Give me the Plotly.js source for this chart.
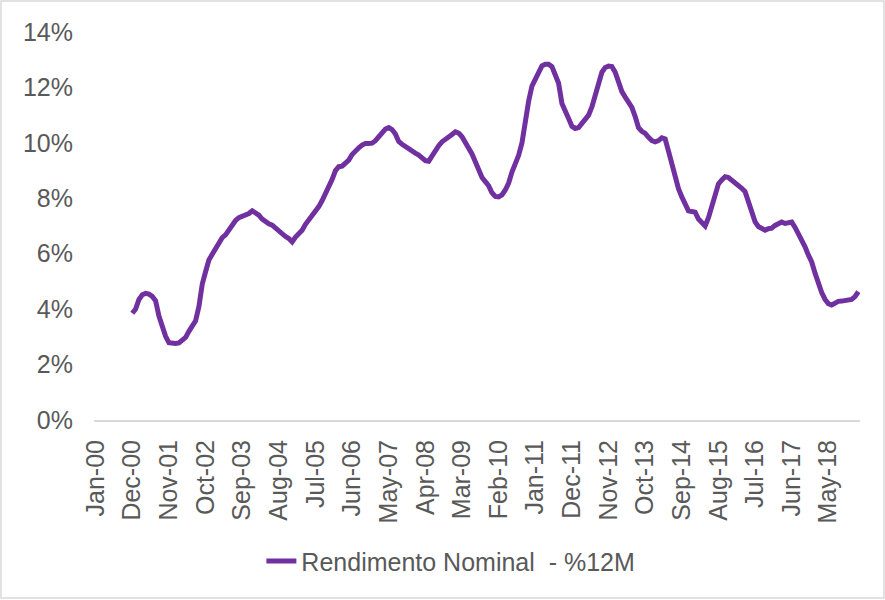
<!DOCTYPE html>
<html>
<head>
<meta charset="utf-8">
<script src="https://cdn.plot.ly/plotly-3.0.1.min.js"></script>
<style>
html,body{margin:0;padding:0;background:#fff;}
#chart{width:885px;height:600px;}
</style>
</head>
<body>
<div id="chart"></div>
<script>
// Monthly categories Jan-00 .. Feb-19
var monthNames = ['Jan','Feb','Mar','Apr','May','Jun','Jul','Aug','Sep','Oct','Nov','Dec'];
var months = [];
for (var yr = 0; yr <= 19; yr++) {
  for (var m = 0; m < 12; m++) {
    if (yr === 19 && m > 1) break;
    months.push(monthNames[m] + '-' + (yr < 10 ? '0' + yr : '' + yr));
  }
}

// Tick labels shown on the axis (every 11 months)
var tickLabels = ['Jan-00','Dec-00','Nov-01','Oct-02','Sep-03','Aug-04','Jul-05','Jun-06','May-07','Apr-08',
  'Mar-09','Feb-10','Jan-11','Dec-11','Nov-12','Oct-13','Sep-14','Aug-15','Jul-16','Jun-17','May-18'];

// Series starts Dec-00
var seriesStart = 'Dec-00';
var seriesName = 'Rendimento Nominal  - %12M';
var rendimento = [
  3.85, 4.00, 4.35, 4.52, 4.57, 4.54, 4.46, 4.30, 3.75, 3.35, 3.02, 2.79, 2.76, 2.76, 2.78, 2.88, 2.98, 3.20, 3.38, 3.58,
  4.09, 4.90, 5.35, 5.77, 5.98, 6.20, 6.45, 6.58, 6.68, 6.88, 7.02, 7.20, 7.30, 7.35, 7.36, 7.45, 7.55, 7.48, 7.39, 7.25,
  7.15, 7.08, 7.03, 6.92, 6.82, 6.72, 6.62, 6.55, 6.43, 6.60, 6.73, 6.85, 7.06, 7.22, 7.31, 7.50, 7.70, 7.92, 8.15, 8.39,
  8.68, 9.00, 9.14, 9.16, 9.28, 9.38, 9.58, 9.72, 9.82, 9.92, 9.98, 9.98, 9.99, 10.08, 10.20, 10.35, 10.50, 10.55, 10.48, 10.32,
  10.05, 9.95, 9.86, 9.78, 9.70, 9.63, 9.56, 9.48, 9.36, 9.34, 9.55, 9.75, 9.90, 10.04, 10.12, 10.18, 10.30, 10.40, 10.35, 10.22,
  10.02, 9.88, 9.60, 9.32, 9.05, 8.75, 8.60, 8.45, 8.20, 8.07, 8.05, 8.12, 8.30, 8.55, 8.95, 9.25, 9.55, 10.00, 10.90, 11.50,
  12.05, 12.30, 12.56, 12.78, 12.84, 12.84, 12.75, 12.50, 12.15, 11.42, 11.10, 10.88, 10.60, 10.52, 10.55, 10.70, 10.82, 11.00, 11.30, 11.75,
  12.20, 12.55, 12.72, 12.77, 12.75, 12.55, 12.20, 11.85, 11.65, 11.45, 11.28, 10.95, 10.55, 10.42, 10.34, 10.20, 10.08, 10.04, 10.08, 10.18,
  10.14, 9.70, 9.20, 8.70, 8.35, 8.05, 7.80, 7.55, 7.52, 7.50, 7.25, 7.10, 7.00, 7.30, 7.69, 8.10, 8.52, 8.66, 8.78, 8.75,
  8.66, 8.57, 8.47, 8.36, 8.24, 7.90, 7.45, 7.15, 6.98, 6.90, 6.85, 6.90, 6.92, 7.02, 7.08, 7.14, 7.09, 7.13, 7.14, 6.95,
  6.72, 6.55, 6.25, 5.95, 5.70, 5.30, 4.92, 4.60, 4.35, 4.20, 4.15, 4.24, 4.28, 4.29, 4.30, 4.34, 4.35, 4.45, 4.63
];

var startIdx = months.indexOf(seriesStart);
var xs = months.slice(startIdx, startIdx + rendimento.length);

var textColor = '#595959';
var fontFam = '"Liberation Sans", Arial, sans-serif';

var trace = {
  x: xs,
  y: rendimento,
  type: 'scatter',
  mode: 'lines',
  name: seriesName,
  line: {color: '#7030A0', width: 5, shape: 'linear'},
  hoverinfo: 'x+y'
};

var layout = {
  width: 885,
  height: 600,
  margin: {l: 94, r: 25, t: 32, b: 180},
  paper_bgcolor: '#ffffff',
  plot_bgcolor: '#ffffff',
  font: {family: fontFam, size: 25, color: textColor},
  showlegend: true,
  legend: {
    orientation: 'h',
    x: 0.2185, xanchor: 'left',
    y: -0.305, yanchor: 'top',
    font: {family: fontFam, size: 25, color: textColor},
    bgcolor: 'rgba(0,0,0,0)'
  },
  xaxis: {
    type: 'category',
    categoryorder: 'array',
    categoryarray: months,
    range: [-0.5, months.length - 0.5],
    tickmode: 'array',
    tickvals: tickLabels,
    ticktext: tickLabels,
    tickangle: -90,
    ticks: '',
    showgrid: false,
    zeroline: false,
    showline: true,
    linecolor: '#d9d9d9',
    linewidth: 2,
    ticklabelstandoff: 8,
    tickfont: {family: fontFam, size: 25, color: textColor},
    fixedrange: true
  },
  yaxis: {
    range: [0, 14],
    dtick: 2,
    tick0: 0,
    ticksuffix: '%',
    showgrid: false,
    zeroline: false,
    showline: false,
    ticks: '',
    ticklabelstandoff: 20,
    tickfont: {family: fontFam, size: 25, color: textColor},
    fixedrange: true
  },
  shapes: [{
    type: 'rect', xref: 'paper', yref: 'paper',
    x0: -0.1214, x1: 1.0313, y0: -0.4588, y1: 1.0799,
    line: {color: '#d9d9d9', width: 1.5},
    fillcolor: 'rgba(0,0,0,0)',
    layer: 'below'
  }]
};

Plotly.newPlot('chart', [trace], layout, {displayModeBar: false, staticPlot: true});
</script>
</body>
</html>
